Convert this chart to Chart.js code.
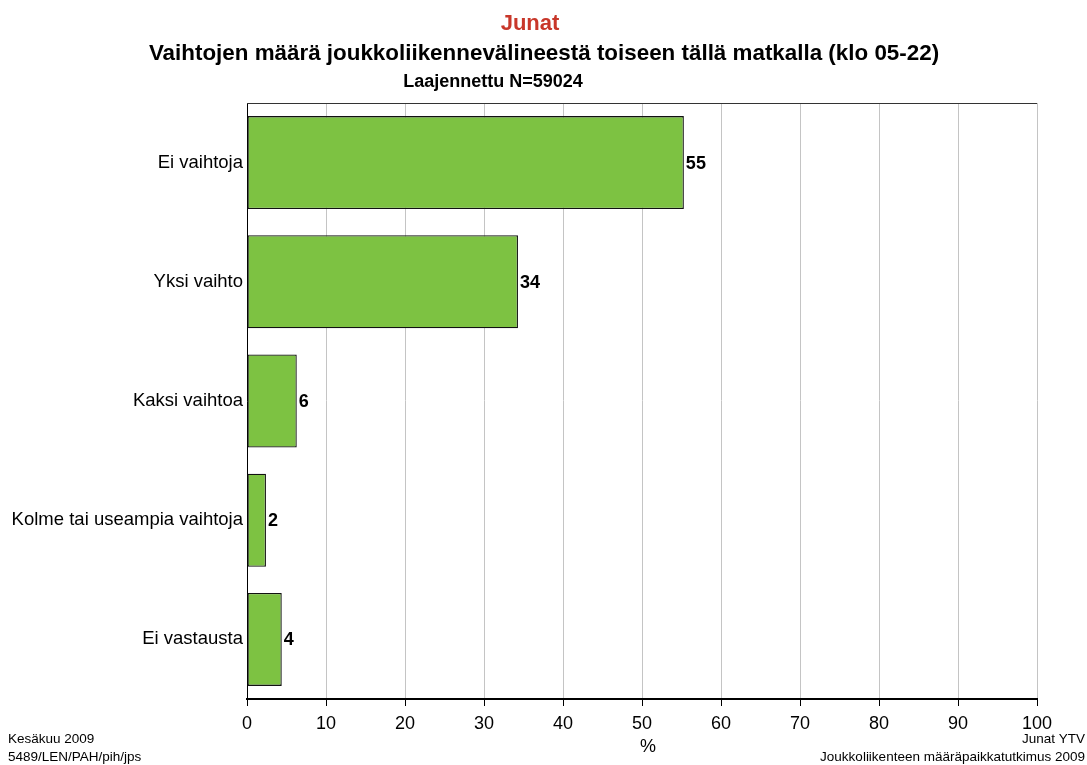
<!DOCTYPE html>
<html>
<head>
<meta charset="utf-8">
<script src="https://cdn.jsdelivr.net/npm/chart.js@4/dist/chart.umd.min.js"></script>
<style>
    html, body { margin: 0; padding: 0; background: #fff; }
    #wrap { width: 1087px; height: 765px; position: relative; }
</style>
</head>
<body>
<div id="wrap"><canvas id="myChart"></canvas></div>
<script>
// Chart data
const categories = ['Ei vaihtoja', 'Yksi vaihto', 'Kaksi vaihtoa', 'Kolme tai useampia vaihtoja', 'Ei vastausta'];
const shares = [55.3, 34.3, 6.3, 2.4, 4.4];
const xTicks = [0, 10, 20, 30, 40, 50, 60, 70, 80, 90, 100];

const FONT = '"Liberation Sans", Arial, sans-serif';

// Titles, value labels, footer texts and top border
const decorations = {
    id: 'decorations',
    afterDatasetsDraw(chart) {
        const ctx = chart.ctx;
        const area = chart.chartArea;
        ctx.save();

        // top border of plot
        ctx.strokeStyle = '#333';
        ctx.lineWidth = 1;
        ctx.beginPath();
        ctx.moveTo(area.left, area.top + 0.5);
        ctx.lineTo(area.right, area.top + 0.5);
        ctx.stroke();

        // value labels
        ctx.fillStyle = '#000';
        ctx.font = 'bold 18px ' + FONT;
        ctx.textAlign = 'left';
        ctx.textBaseline = 'middle';
        const meta = chart.getDatasetMeta(0);
        meta.data.forEach((bar, i) => {
            ctx.fillText(Math.round(shares[i]), bar.x + 2, bar.y + 1);
        });

        // headings
        ctx.textAlign = 'center';
        ctx.textBaseline = 'alphabetic';
        ctx.fillStyle = '#c8372a';
        ctx.font = 'bold 22px ' + FONT;
        ctx.fillText('Junat', 530, 30);
        ctx.fillStyle = '#000';
        ctx.font = 'bold 22.4px ' + FONT;
        ctx.fillText('Vaihtojen määrä joukkoliikennevälineestä toiseen tällä matkalla (klo 05-22)', 544, 60);
        ctx.font = 'bold 18px ' + FONT;
        ctx.fillText('Laajennettu N=59024', 493, 87);

        // axis title
        ctx.font = '18px ' + FONT;
        ctx.fillText('%', 648, 752);

        // footer
        ctx.font = '13.5px ' + FONT;
        ctx.textAlign = 'left';
        ctx.fillText('Kesäkuu 2009', 8, 743);
        ctx.fillText('5489/LEN/PAH/pih/jps', 8, 761);
        ctx.textAlign = 'right';
        ctx.fillText('Junat YTV', 1085, 743);
        ctx.fillText('Joukkoliikenteen määräpaikkatutkimus 2009', 1085, 761);

        ctx.restore();
    }
};

const ctx = document.getElementById('myChart').getContext('2d');
const chart = new Chart(ctx, {
    type: 'bar',
    data: {
        labels: categories,
        datasets: [{
            data: shares,
            backgroundColor: '#7dc242',
            borderColor: '#111',
            borderWidth: 1.3,
            borderSkipped: false,
            barPercentage: 0.78,
            categoryPercentage: 1
        }]
    },
    options: {
        indexAxis: 'y',
        responsive: true,
        maintainAspectRatio: false,
        animation: false,
        layout: {
            padding: { left: 0, right: 50, top: 103, bottom: 0 }
        },
        plugins: {
            legend: { display: false },
            tooltip: { enabled: false }
        },
        scales: {
            x: {
                min: 0,
                max: 100,
                afterBuildTicks: (scale) => {
                    scale.ticks = xTicks.map(v => ({ value: v }));
                },
                afterFit: (scale) => { scale.height = 66; },
                grid: {
                    color: '#c4c4c4',
                    lineWidth: 1,
                    tickLength: 7,
                    tickColor: '#000'
                },
                border: { color: '#000', width: 2 },
                ticks: {
                    color: '#000',
                    font: { family: FONT, size: 18 },
                    padding: 7,
                    maxRotation: 0
                }
            },
            y: {
                afterFit: (scale) => { scale.width = 247; },
                grid: { display: false },
                border: { color: '#000', width: 1 },
                ticks: {
                    color: '#000',
                    font: { family: FONT, size: 18.5 },
                    padding: -4
                }
            }
        }
    },
    plugins: [decorations]
});
</script>
</body>
</html>
